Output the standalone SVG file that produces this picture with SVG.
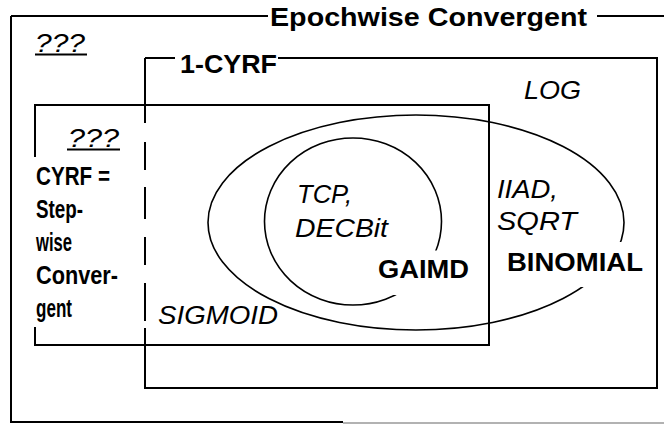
<svg xmlns="http://www.w3.org/2000/svg" width="664" height="424" viewBox="0 0 664 424">
<style>
.ln{stroke:#000;stroke-width:2;fill:none}
.el{stroke:#000;stroke-width:1.6;fill:none}
.b{font-family:"Liberation Sans",Arial,sans-serif;font-weight:bold;fill:#000}
.i{font-family:"Liberation Sans",Arial,sans-serif;font-style:italic;fill:#000}
.bg{fill:#fff}
</style>
<rect width="664" height="424" fill="#fff"/>
<g id="epochwise">
<path class="ln" d="M11 16H268M597 16H664M11 16V423M11 422H343"/>
<path d="M343 423H664" stroke="#999" stroke-width="1.5"/>
<text class="b" x="270" y="26" font-size="26" textLength="317" lengthAdjust="spacingAndGlyphs">Epochwise Convergent</text>
<text class="i" x="35" y="52" font-size="26" textLength="50" lengthAdjust="spacingAndGlyphs">???</text>
<path class="ln" d="M35 54.5H87"/>
</g>
<g id="one-cyrf">
<path class="ln" d="M145 58H175M278 58H657V388H145V328M145 123V58"/>
<path class="ln" d="M145 142V170M145 187V219M145 237V265M145 283V321"/>
<text class="b" x="180" y="73" font-size="26" textLength="97" lengthAdjust="spacingAndGlyphs">1-CYRF</text>
<text class="i" x="524" y="99" font-size="26" textLength="57" lengthAdjust="spacingAndGlyphs">LOG</text>
</g>
<g id="cyrf">
<path class="ln" d="M35 157V105H489V345H35V327"/>
<text class="i" x="68" y="147" font-size="26" textLength="51" lengthAdjust="spacingAndGlyphs">???</text>
<path class="ln" d="M67 149.5H120"/>
<text class="b" x="36" y="185" font-size="25" textLength="74" lengthAdjust="spacingAndGlyphs">CYRF =</text>
<text class="b" x="36" y="218" font-size="25" textLength="47" lengthAdjust="spacingAndGlyphs">Step-</text>
<text class="b" x="36" y="251" font-size="25" textLength="36" lengthAdjust="spacingAndGlyphs">wise</text>
<text class="b" x="36" y="284" font-size="25" textLength="82" lengthAdjust="spacingAndGlyphs">Conver-</text>
<text class="b" x="36" y="317" font-size="25" textLength="36" lengthAdjust="spacingAndGlyphs">gent</text>
<text class="i" x="158" y="324" font-size="26" textLength="120" lengthAdjust="spacingAndGlyphs">SIGMOID</text>
</g>
<g id="binomial">
<ellipse class="el" cx="416" cy="222.5" rx="208" ry="107.5"/>
<rect class="bg" x="500" y="242" width="152" height="45"/>
<text class="i" x="497" y="198" font-size="26" textLength="61" lengthAdjust="spacingAndGlyphs">IIAD,</text>
<text class="i" x="497" y="230" font-size="26" textLength="80" lengthAdjust="spacingAndGlyphs">SQRT</text>
<text class="b" x="507" y="271" font-size="26" textLength="136" lengthAdjust="spacingAndGlyphs">BINOMIAL</text>
</g>
<g id="gaimd">
<ellipse class="el" cx="353" cy="221.5" rx="88.5" ry="83.5"/>
<rect class="bg" x="372" y="250.5" width="104" height="44.5"/>
<text class="i" x="297" y="203" font-size="26" textLength="55" lengthAdjust="spacingAndGlyphs">TCP,</text>
<text class="i" x="295" y="237" font-size="26" textLength="93" lengthAdjust="spacingAndGlyphs">DECBit</text>
<text class="b" x="378" y="278" font-size="26" textLength="91" lengthAdjust="spacingAndGlyphs">GAIMD</text>
</g>
<g id="connectors"/>
</svg>
